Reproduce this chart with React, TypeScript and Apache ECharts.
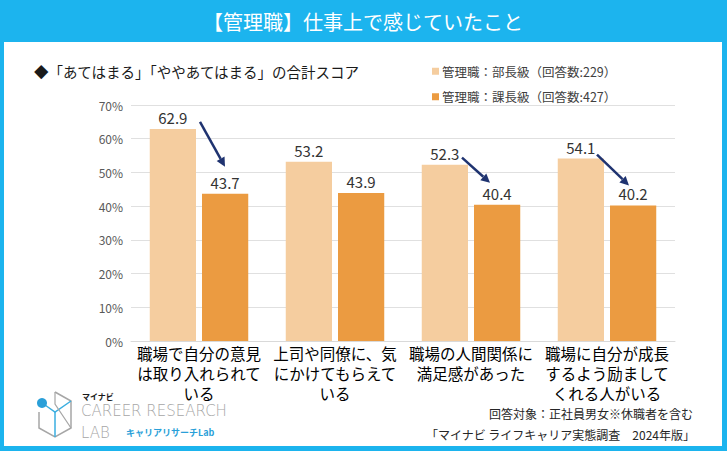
import React, { useEffect, useRef } from "react";
import * as echarts from "echarts";

const categories = [
  "職場で自分の意見\nは取り入れられて\nいる",
  "上司や同僚に、気\nにかけてもらえて\nいる",
  "職場の人間関係に\n満足感があった",
  "職場に自分が成長\nするよう励まして\nくれる人がいる",
];
const seriesNames = ["管理職：部長級（回答数:229）", "管理職：課長級（回答数:427）"];
const buchoValues = [62.9, 53.2, 52.3, 54.1];
const kachoValues = [43.7, 43.9, 40.4, 40.2];
// arrows: category index, start offset from light bar top, end offset from dark bar top
const arrowCats = [0, 2, 3];
const arrowOffsets = [
  [27, -7, 0, -27],
  [17, -7, -7, -22],
  [16, -4, -4, -20],
];

const FONT = "'Noto Sans CJK JP', 'Noto Sans', sans-serif";
const CYAN = "#1cb4ee";
const NAVY = "#1f3370";

export default function App() {
  const ref = useRef<HTMLDivElement>(null);
  useEffect(() => {
    if (!ref.current) return;
    const chart = echarts.init(ref.current, null, { renderer: "svg" });
    const baseGraphic: any[] = [
      { type: "rect", shape: { x: 0, y: 0, width: 727, height: 451 }, style: { fill: CYAN }, z: -10, silent: true },
      { type: "rect", shape: { x: 4, y: 42, width: 718, height: 404 }, style: { fill: "#ffffff" }, z: -9, silent: true },
      {
        type: "text", x: 363, y: 21,
        style: { text: "【管理職】仕事上で感じていたこと", fill: "#ffffff", font: `20px ${FONT}`, textAlign: "center", textVerticalAlign: "middle" },
      },
      {
        type: "text", x: 34, y: 71,
        style: { text: "◆「あてはまる」「ややあてはまる」の合計スコア", fill: "#1a1a1a", font: `14.5px ${FONT}`, textAlign: "left", textVerticalAlign: "middle" },
      },
      {
        type: "text", x: 693, y: 413,
        style: { text: "回答対象：正社員男女※休職者を含む", fill: "#262626", font: `12px ${FONT}`, textAlign: "right", textVerticalAlign: "middle" },
      },
      {
        type: "text", x: 695, y: 434,
        style: { text: "「マイナビ ライフキャリア実態調査　2024年版」", fill: "#262626", font: `12px ${FONT}`, textAlign: "right", textVerticalAlign: "middle" },
      },
      // logo
      {
        type: "polyline",
        shape: { points: [[55, 392], [71, 401], [71, 428], [55, 437], [39, 428], [39, 412]] },
        style: { stroke: "#a6a6a6", lineWidth: 1.5, fill: null },
      },
      {
        type: "polyline",
        shape: { points: [[45, 405], [55, 412], [71, 401]] },
        style: { stroke: "#3aaee0", lineWidth: 1.5, fill: null },
      },
      {
        type: "polyline",
        shape: { points: [[55, 412], [55, 437]] },
        style: { stroke: "#3aaee0", lineWidth: 1.5, fill: null },
      },
      {
        type: "polyline",
        shape: { points: [[55, 392], [55, 404], [71, 428]] },
        style: { stroke: "#a6a6a6", lineWidth: 1.2, fill: null },
      },
      { type: "circle", shape: { cx: 42, cy: 403, r: 5 }, style: { fill: "#2a9fd8" } },
      {
        type: "text", x: 82, y: 396,
        style: { text: "マイナビ", fill: "#1a1a1a", font: `bold 8px ${FONT}`, textAlign: "left", textVerticalAlign: "middle" },
      },
      {
        type: "text", x: 81, y: 411,
        style: { text: "CAREER RESEARCH", fill: "#a6a6a6", font: `200 15px 'DejaVu Sans', sans-serif`, textAlign: "left", textVerticalAlign: "middle" },
      },
      {
        type: "text", x: 81, y: 433,
        style: { text: "LAB", fill: "#a6a6a6", font: `200 15px 'DejaVu Sans', sans-serif`, textAlign: "left", textVerticalAlign: "middle" },
      },
      {
        type: "text", x: 126, y: 432,
        style: { text: "キャリアリサーチLab", fill: "#2a9fd8", font: `bold 9px ${FONT}`, textAlign: "left", textVerticalAlign: "middle" },
      },
    ];

    chart.setOption({
      animation: false,
      textStyle: { fontFamily: FONT },
      legend: {
        orient: "vertical",
        left: 427,
        top: 60,
        itemWidth: 7,
        itemHeight: 7,
        itemGap: 13,
        icon: "rect",
        textStyle: { fontSize: 12.5, color: "#404040", padding: [0, 0, 0, -2] },
        data: seriesNames,
      },
      grid: { left: 131, right: 52, top: 105, bottom: 110 },
      xAxis: {
        type: "category",
        data: categories,
        axisLine: { lineStyle: { color: "#d9d9d9" } },
        axisTick: { show: false },
        axisLabel: { interval: 0, fontSize: 15.5, color: "#000000", lineHeight: 20, margin: 2 },
      },
      yAxis: {
        type: "value",
        min: 0,
        max: 70,
        interval: 10,
        axisLabel: { formatter: "{value}%", fontSize: 12, color: "#595959", margin: 8 },
        splitLine: { lineStyle: { color: "#e0e0e0" } },
        axisLine: { show: false },
      },
      series: [
        {
          name: seriesNames[0],
          type: "bar",
          data: buchoValues,
          barWidth: "34%",
          barGap: "13%",
          itemStyle: { color: "#f5cd9f" },
          label: { show: true, position: "top", fontSize: 15, color: "#333333", distance: 4 },
        },
        {
          name: seriesNames[1],
          type: "bar",
          data: kachoValues,
          barWidth: "34%",
          itemStyle: { color: "#eb9b41" },
          label: { show: true, position: "top", fontSize: 15, color: "#333333", distance: 4 },
        },
      ],
      graphic: baseGraphic,
    });

    // arrows, positioned from the chart's own scales
    const arrowGraphics: any[] = [];
    arrowCats.forEach((ci, k) => {
      const c = chart.convertToPixel({ gridIndex: 0 }, [ci, buchoValues[ci]]) as number[];
      const d = chart.convertToPixel({ gridIndex: 0 }, [ci, kachoValues[ci]]) as number[];
      const cx = c[0];
      const lightX = cx - 26;
      const darkX = cx + 26;
      const o = arrowOffsets[k];
      const x1 = lightX + o[0];
      const y1 = c[1] + o[1];
      const x2 = darkX + o[2];
      const y2 = d[1] + o[3];
      const ang = Math.atan2(y2 - y1, x2 - x1);
      const hl = 9;
      const hw = 4.5;
      const bx = x2 - hl * Math.cos(ang);
      const by = y2 - hl * Math.sin(ang);
      arrowGraphics.push({
        type: "line",
        shape: { x1, y1, x2: bx, y2: by },
        style: { stroke: NAVY, lineWidth: 2.5 },
        z: 10,
      });
      arrowGraphics.push({
        type: "polygon",
        shape: {
          points: [
            [x2, y2],
            [bx + hw * Math.sin(ang), by - hw * Math.cos(ang)],
            [bx - hw * Math.sin(ang), by + hw * Math.cos(ang)],
          ],
        },
        style: { fill: NAVY },
        z: 10,
      });
    });
    chart.setOption({ graphic: [...baseGraphic, ...arrowGraphics] }, { replaceMerge: ["graphic"] });

    return () => chart.dispose();
  }, []);
  return (
    <div
      ref={ref}
      style={{ position: "absolute", left: 0, top: 0, width: 727, height: 451 }}
    />
  );
}
